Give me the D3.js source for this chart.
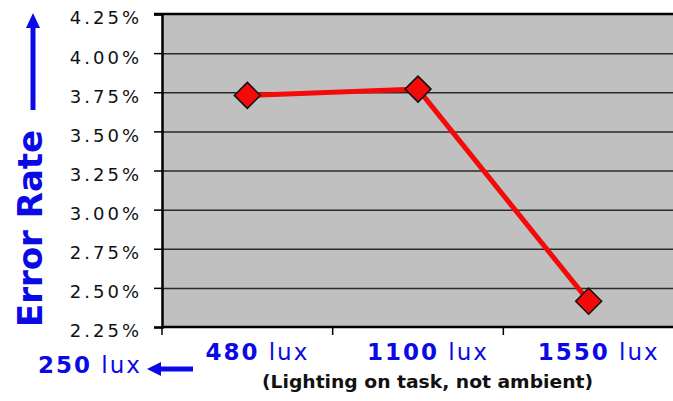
<!DOCTYPE html>
<html>
<head>
<meta charset="utf-8">
<script src="https://cdn.jsdelivr.net/npm/d3@7"></script>
<style>
    body { margin: 0; background: #fff; }
    svg { display: block; }
</style>
</head>
<body>
<svg id="chart" width="673" height="401"></svg>
<script>
// chart data
const categories = ["480", "1100", "1550"];
const errorRates = [3.73, 3.77, 2.415];
const yTicks = [2.25, 2.50, 2.75, 3.00, 3.25, 3.50, 3.75, 4.00, 4.25];
const unit = "lux";
const leftLabel = "250";

const blue = "#0a0ae6";
const svg = d3.select("#chart");

const plot = {left: 162, top: 14, right: 674, bottom: 327};

const x = d3.scaleBand()
    .domain(categories)
    .range([plot.left, plot.right]);

const y = d3.scaleLinear()
    .domain([2.25, 4.25])
    .range([plot.bottom, plot.top]);

// plot background
svg.append("rect")
    .attr("x", plot.left)
    .attr("y", plot.top)
    .attr("width", plot.right - plot.left)
    .attr("height", plot.bottom - plot.top)
    .attr("fill", "#c0c0c0");

// gridlines
svg.append("g")
    .attr("transform", "translate(" + plot.left + ",0)")
    .call(d3.axisLeft(y)
        .tickValues(yTicks.slice(1, -1))
        .tickSize(-(plot.right - plot.left))
        .tickFormat(""))
    .call(g => g.select(".domain").remove())
    .selectAll("line")
    .attr("stroke", "#2a2a2a")
    .attr("stroke-width", 1.5);

// top border
svg.append("line")
    .attr("x1", plot.left - 8).attr("x2", plot.right)
    .attr("y1", y(4.25)).attr("y2", y(4.25))
    .attr("stroke", "#000").attr("stroke-width", 2.5);

// y axis
const yAxis = svg.append("g")
    .attr("transform", "translate(" + plot.left + ",0)")
    .call(d3.axisLeft(y)
        .tickValues(yTicks)
        .tickSize(8)
        .tickPadding(12)
        .tickFormat(d => d.toFixed(2) + "%"));
yAxis.select(".domain")
    .attr("stroke", "#000").attr("stroke-width", 2.5);
yAxis.selectAll(".tick line")
    .attr("stroke", "#000").attr("stroke-width", 1.5);
yAxis.selectAll("text")
    .attr("fill", "#111")
    .attr("dy", "0.55em")
    .style("font-family", "DejaVu Sans, Verdana, sans-serif")
    .style("font-size", "18px")
    .style("letter-spacing", "3px");

// x axis line and boundary ticks
svg.append("line")
    .attr("x1", plot.left).attr("x2", plot.right)
    .attr("y1", plot.bottom).attr("y2", plot.bottom)
    .attr("stroke", "#000").attr("stroke-width", 2.5);
svg.append("g")
    .selectAll("line")
    .data(categories)
    .enter()
    .append("line")
    .attr("x1", d => x(d)).attr("x2", d => x(d))
    .attr("y1", plot.bottom).attr("y2", plot.bottom + 8)
    .attr("stroke", "#000").attr("stroke-width", 1.5);

// x labels
const xLabels = svg.append("g")
    .selectAll("text")
    .data(categories)
    .enter()
    .append("text")
    .attr("x", d => x(d) + x.bandwidth() / 2 + 10)
    .attr("y", 360)
    .attr("text-anchor", "middle")
    .attr("fill", blue)
    .style("font-family", "DejaVu Sans, Verdana, sans-serif")
    .style("font-size", "23px")
    .style("letter-spacing", "2px");
xLabels.append("tspan").style("font-weight", "bold").text(d => d);
xLabels.append("tspan").text(" " + unit);

svg.append("text")
    .attr("x", 262)
    .attr("y", 388)
    .attr("textLength", 331)
    .attr("lengthAdjust", "spacingAndGlyphs")
    .attr("fill", "#111")
    .style("font-family", "DejaVu Sans, sans-serif")
    .style("font-weight", "bold")
    .style("font-size", "17px")
    .text("(Lighting on task, not ambient)");

// 250 lux with arrow
const ref = svg.append("text")
    .attr("x", 38)
    .attr("y", 373)
    .attr("fill", blue)
    .style("font-family", "DejaVu Sans, Verdana, sans-serif")
    .style("font-size", "23px")
    .style("letter-spacing", "2px");
ref.append("tspan").style("font-weight", "bold").text(leftLabel);
ref.append("tspan").text(" " + unit);

svg.append("line")
    .attr("x1", 158).attr("x2", 193)
    .attr("y1", 369).attr("y2", 369)
    .attr("stroke", blue).attr("stroke-width", 5);
svg.append("path")
    .attr("d", "M147,369 L161,362 L161,376 Z")
    .attr("fill", blue);

// y title with arrow
svg.append("text")
    .attr("transform", "translate(42,327) rotate(-90)")
    .attr("fill", blue)
    .style("font-family", "DejaVu Sans, Verdana, sans-serif")
    .style("font-weight", "bold")
    .style("font-size", "34px")
    .text("Error Rate");
svg.append("line")
    .attr("x1", 33).attr("x2", 33)
    .attr("y1", 110).attr("y2", 26)
    .attr("stroke", blue).attr("stroke-width", 5);
svg.append("path")
    .attr("d", "M33,13 L26,28 L40,28 Z")
    .attr("fill", blue);

// series line and markers
const points = categories.map((c, i) => ({c, v: errorRates[i]}));
const cx = d => x(d.c) + x.bandwidth() / 2;

svg.append("path")
    .datum(points)
    .attr("fill", "none")
    .attr("stroke", "#f50a0a")
    .attr("stroke-width", 5)
    .attr("d", d3.line().x(cx).y(d => y(d.v)));

svg.append("g")
    .selectAll("path")
    .data(points)
    .enter()
    .append("path")
    .attr("transform", d => "translate(" + cx(d) + "," + y(d.v) + ")")
    .attr("d", "M0,-13 L13,0 L0,13 L-13,0 Z")
    .attr("fill", "#f50a0a")
    .attr("stroke", "#111")
    .attr("stroke-width", 1.5);
</script>
</body>
</html>
